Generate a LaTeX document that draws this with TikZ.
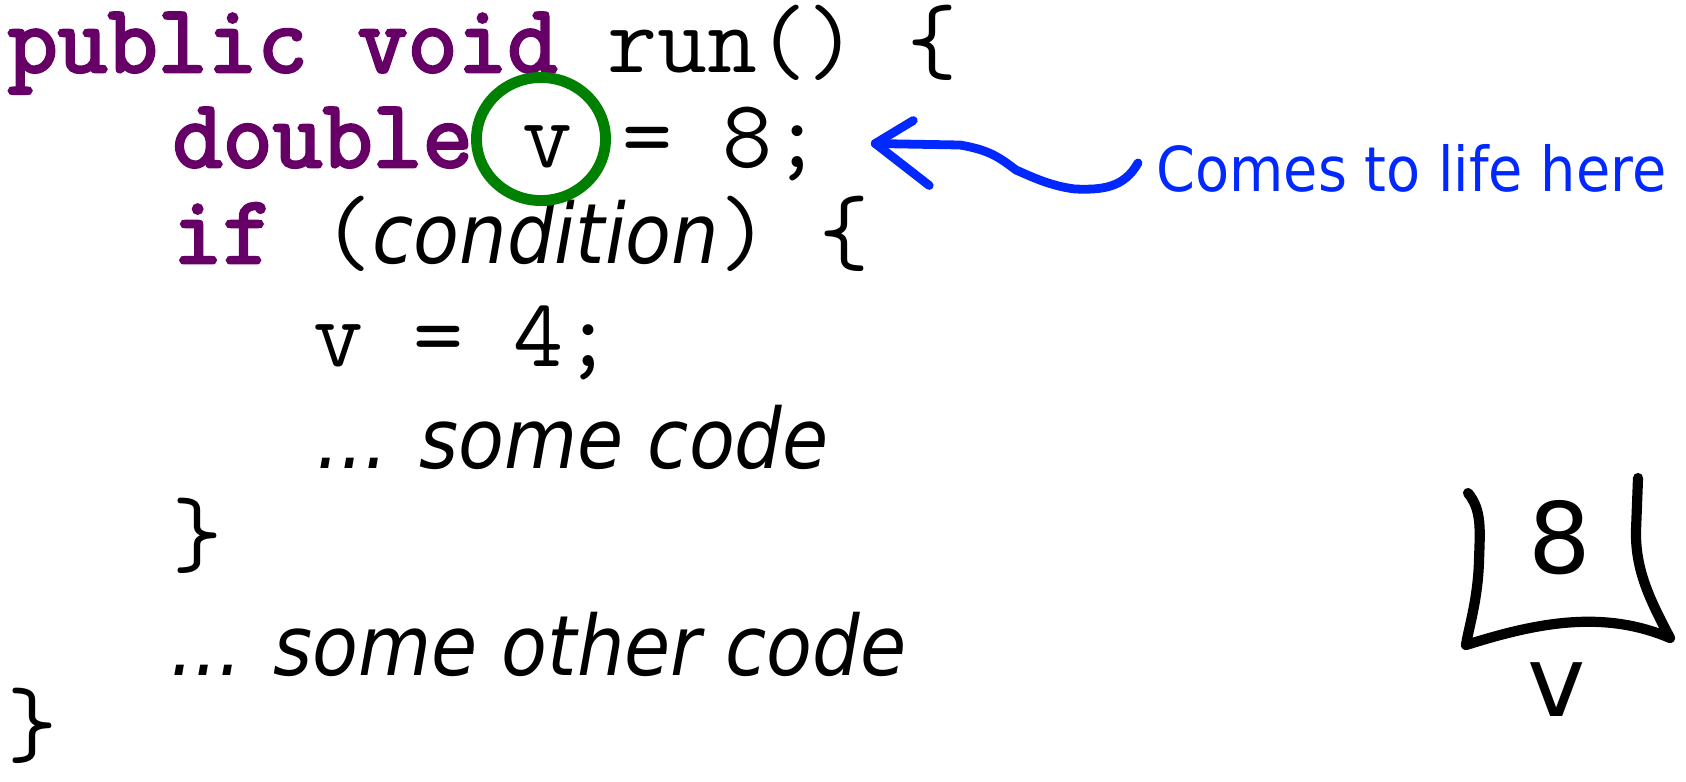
\documentclass[tikz,border=0pt]{standalone}
\usepackage{fontspec}
\usetikzlibrary{shapes.geometric}
\newfontfamily\kwfont[FakeBold=3]{Latin Modern Mono}
\newfontfamily\notefont[ItalicFont={DejaVu Sans Condensed Oblique}]{DejaVu Sans Condensed}
\newfontfamily\handfont{DejaVu Sans}
\definecolor{kwpurple}{RGB}{102,0,102}
\definecolor{ringgreen}{RGB}{0,128,0}
\definecolor{noteblue}{RGB}{0,40,255}
\newcommand{\kw}[1]{{\kwfont\color{kwpurple}#1}}
\newcommand{\codenote}[1]{{\notefont\itshape\fontsize{23.7}{26}\selectfont #1}}
\begin{document}
\begin{tikzpicture}[x=0.01cm, y=-0.01cm,
  code/.style={anchor=base west, inner sep=0pt,
               font=\ttfamily\fontsize{27.6}{30}\selectfont},
  vring/.style={draw=ringgreen, line width=3.1pt, ellipse,
                minimum width=1.29cm, minimum height=1.23cm, inner sep=0pt},
  note/.style={anchor=base west, inner sep=0pt, text=noteblue,
               font=\notefont\fontsize{17.6}{20}\selectfont},
  lifearrow/.style={draw=noteblue, line width=2.5pt, line cap=round,
                    line join=round},
  handline/.style={draw=black, line width=2.9pt, line cap=round,
                   line join=round},
  hand/.style={inner sep=0pt, font=\handfont\fontsize{28}{30}\selectfont}
]
  \useasboundingbox (0,0) rectangle (1686,781);
  \node[code] (l1) at (7,72)    {\kw{public} \kw{void} run() \{};
  \node[code] (l2) at (172,167) {\kw{double} v = 8;};
  \node[code] (l3) at (172,263) {\kw{if} (\codenote{condition}) \{};
  \node[code] (l4) at (313,366) {v = 4;};
  \node[code] (l5) at (316,468) {\codenote{... some code}};
  \node[code] (l6) at (172,565) {\}};
  \node[code] (l7) at (170,675) {\codenote{... some other code}};
  \node[code] (l8) at (7,755)   {\}};
  \node[vring] (ring) at (541,139) {};
  \node[note] (life) at (1156,191) {Comes to life here};
  \coordinate (tip) at ([xshift=0.52cm]l2.east);
  \draw[lifearrow] ([xshift=-0.18cm,yshift=0.05cm]life.west)
    .. controls (1124,188) and (1102,190) .. (1075,189)
    .. controls (1050,186) and (1030,176) .. (1016,170)
    .. controls (1000,158) and (990,150) .. (960,145)
    -- (tip);
  \draw[lifearrow] (tip) -- ++(38,-23);
  \draw[lifearrow] (tip) -- ++(54,42);
  \node[hand] (val) at (1560,538) {8};
  \node[hand] (vname) at (1557,690) {v};
  \draw[handline] (1468,493) .. controls (1482,510) and (1480,530) .. (1479,560)
    .. controls (1478,600) and (1468,630) .. (1466,645)
    .. controls (1530,625) and (1600,608) .. (1670,638)
    .. controls (1650,600) and (1635,570) .. (1636,530) -- (1638,478);
\end{tikzpicture}
\end{document}
